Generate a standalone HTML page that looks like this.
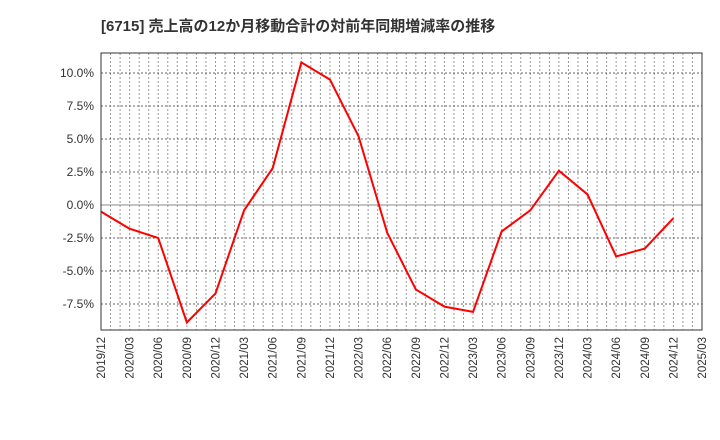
<!DOCTYPE html>
<html><head><meta charset="utf-8"><style>
body{margin:0;background:#fff;}
svg{display:block;font-family:"Liberation Sans","Noto Sans CJK JP",sans-serif;}
</style></head><body>
<svg id="c" width="720" height="440">
<text x="101" y="31" font-size="15" font-weight="bold" fill="#333">[6715]  売上高の12か月移動合計の対前年同期増減率の推移</text>
<g id="grid"></g><g id="axes"></g><g id="series"></g>
<rect x="101" y="53" width="601" height="277" fill="none" stroke="#333" stroke-width="1"/>
</svg>
<script>
const categories=["2019/12","2020/03","2020/06","2020/09","2020/12","2021/03","2021/06","2021/09","2021/12","2022/03","2022/06","2022/09","2022/12","2023/03","2023/06","2023/09","2023/12","2024/03","2024/06","2024/09","2024/12"];
const values=[-0.5,-1.8,-2.5,-8.9,-6.7,-0.4,2.8,10.8,9.5,5.2,-2.1,-6.4,-7.7,-8.1,-2.0,-0.4,2.6,0.8,-3.9,-3.3,-1.0];
const xTickLabels=["2019/12","2020/03","2020/06","2020/09","2020/12","2021/03","2021/06","2021/09","2021/12","2022/03","2022/06","2022/09","2022/12","2023/03","2023/06","2023/09","2023/12","2024/03","2024/06","2024/09","2024/12","2025/03"];
const yTicks=[10,7.5,5,2.5,0,-2.5,-5,-7.5];
const NS="http://www.w3.org/2000/svg";
const L=101,R=702,T=53,B=330,yMax=11.515,yMin=-9.47;
const nMonths=(xTickLabels.length-1)*3;
function x(i){return L+(R-L)*i/(xTickLabels.length-1);}
function xm(m){return L+(R-L)*m/nMonths;}
function y(v){return T+(yMax-v)/(yMax-yMin)*(B-T);}
function mk(tag,attrs,parent){const e=document.createElementNS(NS,tag);for(const k in attrs)e.setAttribute(k,attrs[k]);parent.appendChild(e);return e;}
const grid=document.getElementById('grid'),axes=document.getElementById('axes'),series=document.getElementById('series');
for(let m=1;m<nMonths;m++){
 const l=mk('line',{x1:xm(m),x2:xm(m),y1:T,y2:B,stroke:'#999','stroke-width':1,'stroke-dasharray':'2,2'},grid);
 
 
}
yTicks.forEach(v=>{
 const l=mk('line',{x1:L,x2:R,y1:y(v),y2:y(v),stroke:v===0?'#888':'#666','stroke-width':1,'stroke-dasharray':v===0?'':'2,2'},grid);
 
 
 const t=mk('text',{x:L-7,y:y(v)+4,'font-size':12,'text-anchor':'end',fill:'#333'},axes);
 t.textContent=v.toFixed(1)+'%';
 
 
});
xTickLabels.forEach((s,i)=>{
 const t=mk('text',{x:0,y:0,'font-size':11.5,'text-anchor':'end',fill:'#333',transform:`translate(${x(i)+4},${B+7}) rotate(-90)`},axes);
 t.textContent=s;
 
 
});
const pts=values.map((v,i)=>x(i)+','+y(v)).join(' ');
const pl=mk('polyline',{points:pts,fill:'none',stroke:'#f00','stroke-width':2,'stroke-linejoin':'miter'},series);


</script>
</body></html>
